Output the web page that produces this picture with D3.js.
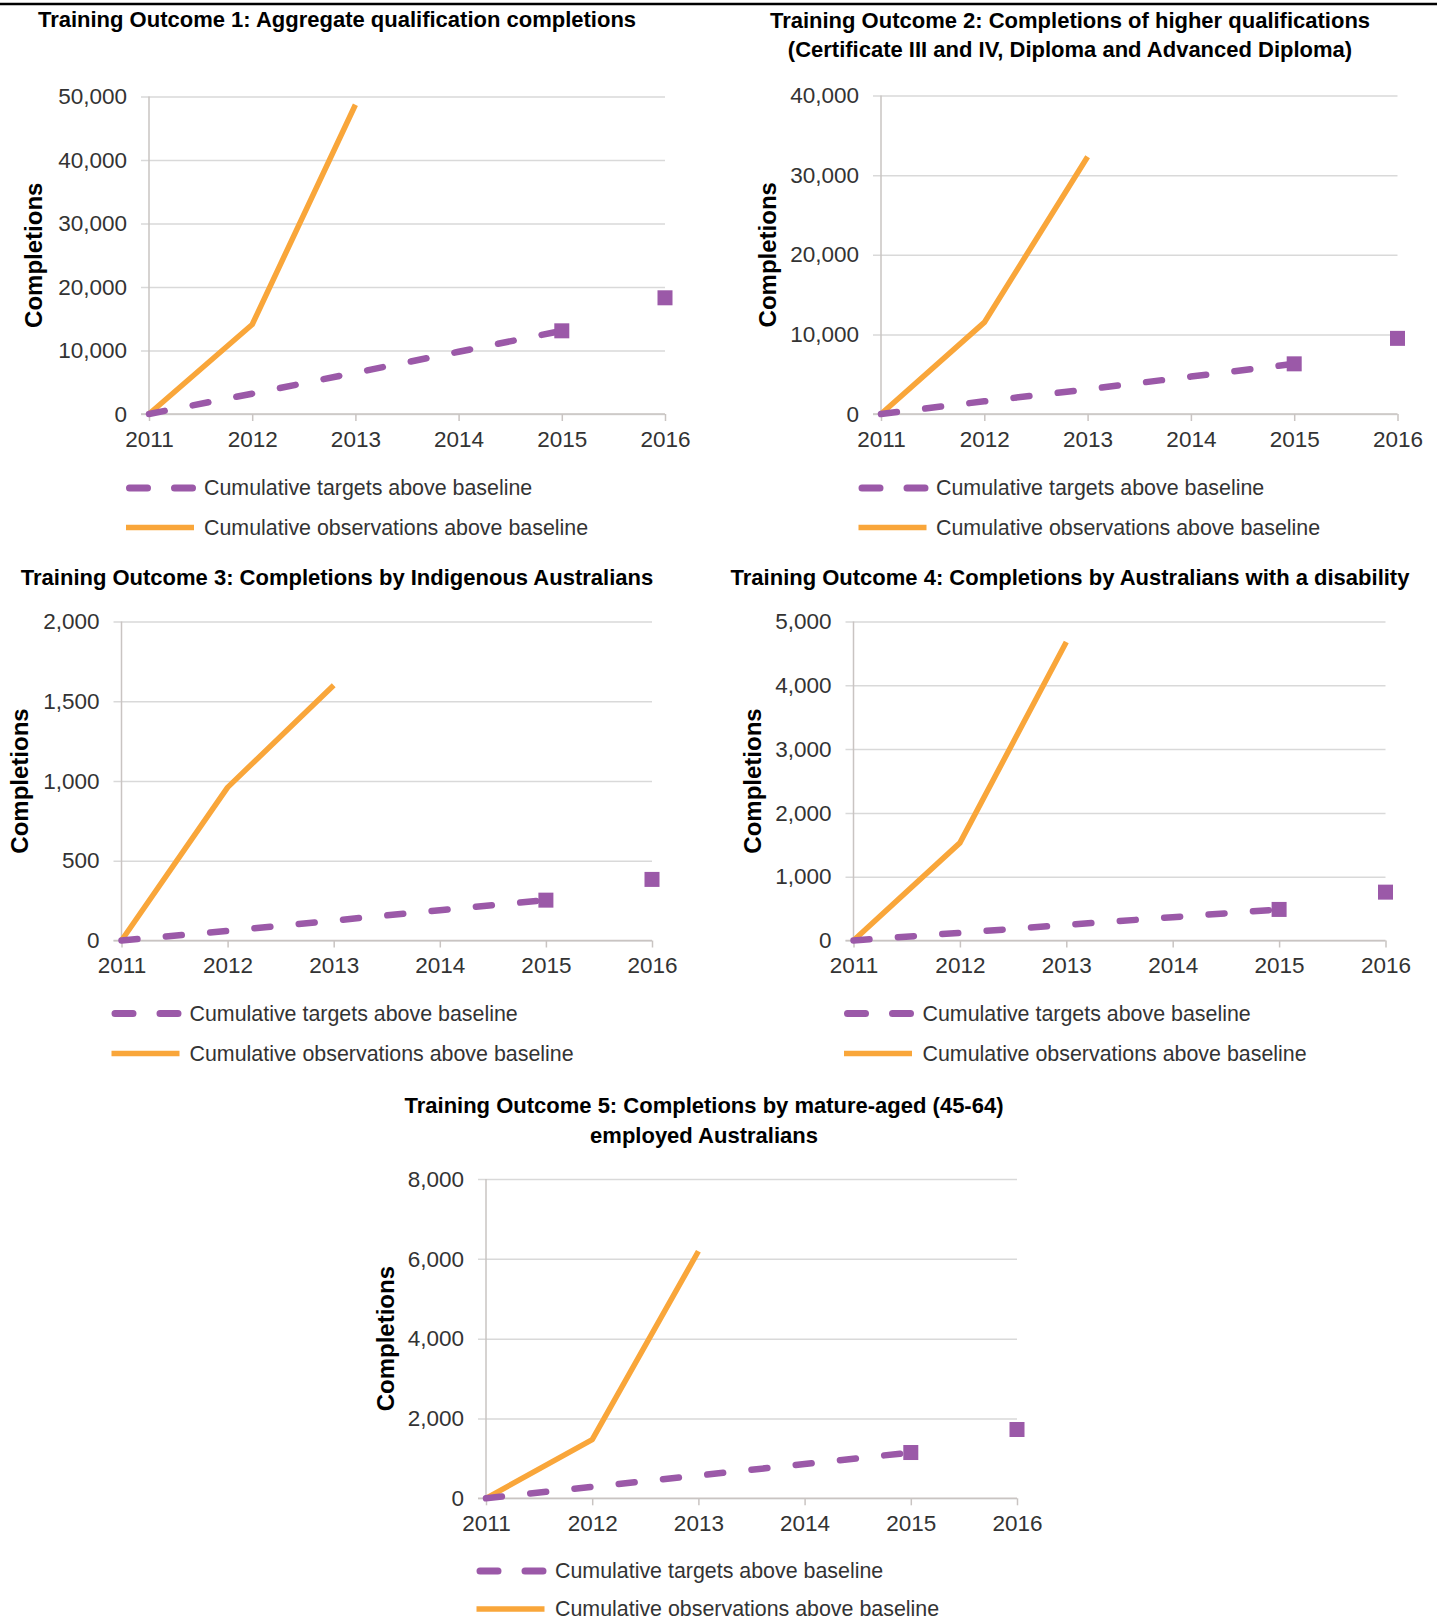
<!DOCTYPE html>
<html>
<head>
<meta charset="utf-8">
<script src="https://cdn.jsdelivr.net/npm/d3@7"></script>
<style>
  html, body { margin: 0; padding: 0; background: #fff; }
  svg { display: block; }
  .title { font-family: "Liberation Sans Narrow", "Arial Narrow", "Liberation Sans", Arial, sans-serif; font-weight: bold; font-size: 22px; fill: #000; }
  .tick text { font-family: "Liberation Sans", Arial, sans-serif; font-size: 22.5px; fill: #333; }
  .ylab { font-family: "Liberation Sans", Arial, sans-serif; font-weight: bold; font-size: 24px; fill: #000; }
  .leg { font-family: "Liberation Sans", Arial, sans-serif; font-size: 21.4px; fill: #333; }
</style>
</head>
<body>
<svg id="chart" width="1442" height="1620"></svg>
<script>
// ---------------- DATA ----------------
const years = [2011, 2012, 2013, 2014, 2015, 2016];
const obsYears = [2011, 2012, 2013];
const targetYears = [2011, 2012, 2013, 2014, 2015];
const markerYears = [2015, 2016];

const titles1 = ["Training Outcome 1: Aggregate qualification completions"];
const titles2 = ["Training Outcome 2: Completions of higher qualifications", "(Certificate III and IV, Diploma and Advanced Diploma)"];
const titles3 = ["Training Outcome 3: Completions by Indigenous Australians"];
const titles4 = ["Training Outcome 4: Completions by Australians with a disability"];
const titles5 = ["Training Outcome 5: Completions by mature-aged (45-64)", "employed Australians"];

const yTicks1 = [0, 10000, 20000, 30000, 40000, 50000];
const yTicks2 = [0, 10000, 20000, 30000, 40000];
const yTicks3 = [0, 500, 1000, 1500, 2000];
const yTicks4 = [0, 1000, 2000, 3000, 4000, 5000];
const yTicks5 = [0, 2000, 4000, 6000, 8000];

const obs1 = [0, 14100, 48700];
const target1 = [0, 3200, 6500, 9800, 13100];
const marker1 = [13100, 18300];

const obs2 = [0, 11500, 32300];
const target2 = [0, 1600, 3100, 4700, 6300];
const marker2 = [6300, 9500];

const obs3 = [0, 960, 1600];
const target3 = [0, 60, 125, 190, 253];
const marker3 = [253, 383];

const obs4 = [0, 1530, 4680];
const target4 = [0, 120, 245, 365, 487];
const marker4 = [487, 758];

const obs5 = [0, 1470, 6190];
const target5 = [0, 290, 570, 860, 1147];
const marker5 = [1147, 1724];

const yLabel = "Completions";
const legendLabels = ["Cumulative targets above baseline", "Cumulative observations above baseline"];

// ---------------- STYLE ----------------
const PURPLE = "#9B59A8";
const ORANGE = "#F9A63A";
const GRID = "#d9d9d9";
const AXIS = "#c9c4c2";

const svg = d3.select("#chart");

// top rule
svg.append("line").attr("x1", 0).attr("x2", 1437).attr("y1", 4).attr("y2", 4)
  .attr("stroke", "#000").attr("stroke-width", 2.5);

const charts = [
  { titles: titles1, ticks: yTicks1, obs: obs1, target: target1, marker: marker1,
    x0: 149, x1: 665, yTop: 96.5, y0: 414, tx: 337, tys: [27], ylx: 33,
    lx: 126, ltx: 204, ly: [488, 527.5] },
  { titles: titles2, ticks: yTicks2, obs: obs2, target: target2, marker: marker2,
    x0: 881, x1: 1397.5, yTop: 95.5, y0: 414, tx: 1070, tys: [27.5, 57], ylx: 767,
    lx: 858.5, ltx: 936, ly: [488, 527.5] },
  { titles: titles3, ticks: yTicks3, obs: obs3, target: target3, marker: marker3,
    x0: 121.5, x1: 652, yTop: 621.5, y0: 940.5, tx: 337, tys: [585], ylx: 19.5,
    lx: 111.5, ltx: 189.5, ly: [1013.5, 1053.5] },
  { titles: titles4, ticks: yTicks4, obs: obs4, target: target4, marker: marker4,
    x0: 853.5, x1: 1385.5, yTop: 621.5, y0: 940.5, tx: 1070, tys: [585], ylx: 752,
    lx: 844, ltx: 922.5, ly: [1013.5, 1053.5] },
  { titles: titles5, ticks: yTicks5, obs: obs5, target: target5, marker: marker5,
    x0: 486, x1: 1017, yTop: 1179, y0: 1498.3, tx: 704, tys: [1113, 1143], ylx: 385.5,
    lx: 476.5, ltx: 555, ly: [1571, 1609] }
];

charts.forEach(c => {
  const g = svg.append("g");
  const x = d3.scaleLinear().domain([years[0], years[years.length - 1]]).range([c.x0, c.x1]);
  const y = d3.scaleLinear().domain([0, c.ticks[c.ticks.length - 1]]).range([c.y0, c.yTop]);

  // title
  c.titles.forEach((t, i) => {
    g.append("text").attr("class", "title").attr("x", c.tx).attr("y", c.tys[i])
      .attr("text-anchor", "middle").text(t);
  });

  // gridlines + y tick labels
  const yAxis = d3.axisLeft(y).tickValues(c.ticks).tickFormat(d3.format(","))
    .tickSize(-(c.x1 - c.x0 + 8)).tickPadding(14);
  const ya = g.append("g").attr("transform", `translate(${c.x0 - 8},0)`).call(yAxis);
  ya.select(".domain").remove();
  ya.selectAll(".tick line").attr("stroke", GRID).attr("stroke-width", 1.5);

  // x axis ticks and labels
  const xAxis = d3.axisBottom(x).tickValues(years).tickFormat(d3.format("d"))
    .tickSize(7).tickPadding(10);
  const xa = g.append("g").attr("transform", `translate(0,${c.y0})`).call(xAxis);
  xa.select(".domain").remove();
  xa.selectAll(".tick line").attr("stroke", AXIS).attr("stroke-width", 1.5);

  // axis lines
  g.append("line").attr("x1", c.x0 - 8).attr("x2", c.x1).attr("y1", c.y0).attr("y2", c.y0)
    .attr("stroke", AXIS).attr("stroke-width", 1.5);
  g.append("line").attr("x1", c.x0).attr("x2", c.x0).attr("y1", c.yTop).attr("y2", c.y0)
    .attr("stroke", AXIS).attr("stroke-width", 1.5);

  // y label
  g.append("text").attr("class", "ylab")
    .attr("transform", `translate(${c.ylx},${(c.yTop + c.y0) / 2}) rotate(-90)`)
    .attr("text-anchor", "middle").attr("dominant-baseline", "central").text(yLabel);

  // observations line
  const lineObs = d3.line().x((d, i) => x(obsYears[i])).y(d => y(d));
  g.append("path").datum(c.obs).attr("d", lineObs)
    .attr("fill", "none").attr("stroke", ORANGE).attr("stroke-width", 5.5)
    .attr("stroke-linejoin", "round");

  // targets dashed line
  const lineT = d3.line().x((d, i) => x(targetYears[i])).y(d => y(d));
  g.append("path").datum(c.target).attr("d", lineT)
    .attr("fill", "none").attr("stroke", PURPLE).attr("stroke-width", 6.5)
    .attr("stroke-linecap", "round").attr("stroke-dasharray", "16,28.5");

  // markers
  g.selectAll("rect.mk").data(c.marker).enter().append("rect").attr("class", "mk")
    .attr("x", (d, i) => x(markerYears[i]) - 7.5).attr("y", d => y(d) - 7.5)
    .attr("width", 15).attr("height", 15).attr("fill", PURPLE);

  // legend
  g.append("line").attr("x1", c.lx + 3.5).attr("x2", c.lx + 66.5)
    .attr("y1", c.ly[0]).attr("y2", c.ly[0])
    .attr("stroke", PURPLE).attr("stroke-width", 7).attr("stroke-linecap", "round")
    .attr("stroke-dasharray", "18,27");
  g.append("line").attr("x1", c.lx).attr("x2", c.lx + 68)
    .attr("y1", c.ly[1]).attr("y2", c.ly[1])
    .attr("stroke", ORANGE).attr("stroke-width", 5.5);
  legendLabels.forEach((t, i) => {
    g.append("text").attr("class", "leg").attr("x", c.ltx).attr("y", c.ly[i])
      .attr("dominant-baseline", "central").text(t);
  });
});
</script>
</body>
</html>
